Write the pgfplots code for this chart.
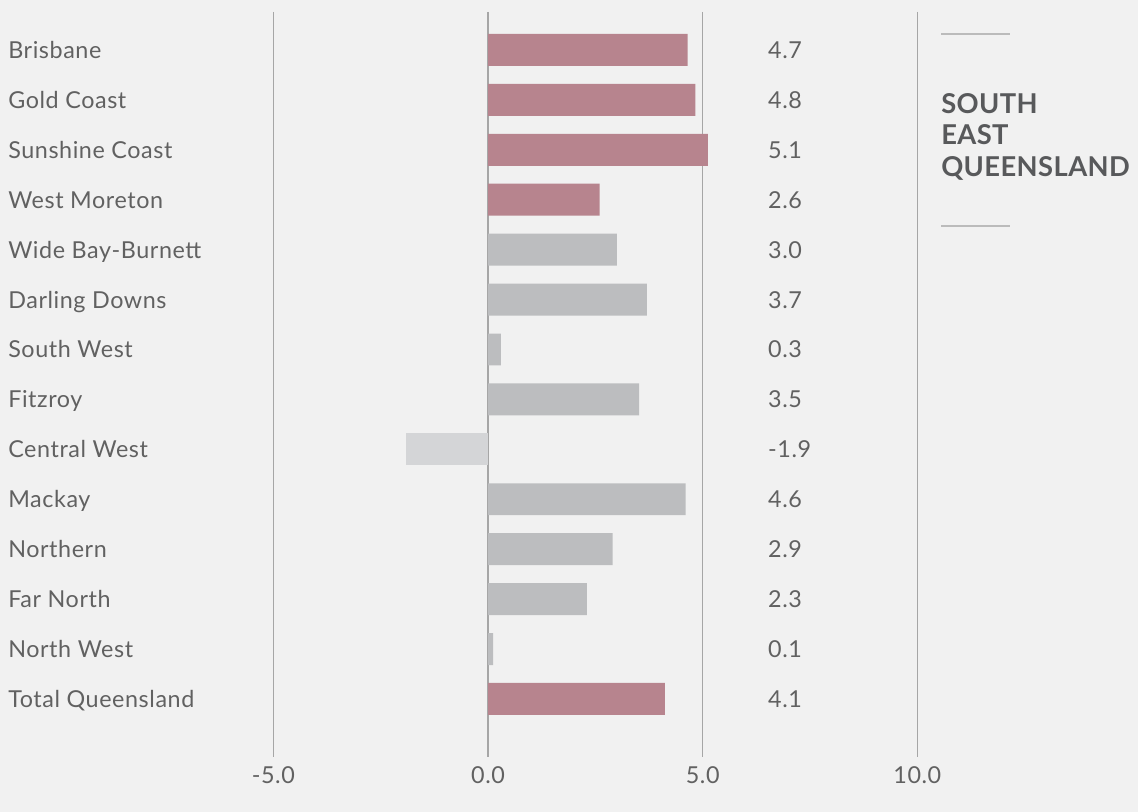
\documentclass[border=0pt]{standalone}
\usepackage{pgfplots}
\pgfplotsset{compat=1.18}
\usepackage{fontspec}
\setmainfont{Lato}[LetterSpace=2.5]
\newfontfamily\headfont{Lato}[LetterSpace=1.5]
\definecolor{bg}{HTML}{F1F1F1}
\definecolor{seq}{HTML}{B7848E}
\definecolor{reg}{HTML}{BCBDBF}
\definecolor{neg}{HTML}{D4D5D7}
\definecolor{grid}{HTML}{A6A6A6}
\definecolor{txt}{HTML}{616161}
\definecolor{ttl}{HTML}{58595B}
\definecolor{rule}{HTML}{BBBBBB}
\begin{document}
\begin{tikzpicture}
\fill[bg] (0,0) rectangle (853.5pt,609pt);
\begin{axis}[
  at={(0,0)}, anchor=south west,
  scale only axis, width=853.5pt, height=609pt,
  xmin=-11.367, xmax=15.14,
  ymin=-1.0, ymax=15.264, y dir=reverse,
  axis lines=none, clip=false,
]
% grid lines
\addplot[draw=grid, line width=1pt, forget plot] coordinates {(-5,-0.76) (-5,14.16)};
\addplot[draw=grid, line width=1pt, forget plot] coordinates {(0,-0.76) (0,14.16)};
\addplot[draw=grid, line width=1pt, forget plot] coordinates {(5,-0.76) (5,14.16)};
\addplot[draw=grid, line width=1pt, forget plot] coordinates {(10,-0.76) (10,14.16)};
% South East Queensland + total
\addplot[xbar, bar width=0.64, bar shift=0pt, fill=seq, draw=none] coordinates {(4.65,0) (4.83,1) (5.12,2) (2.6,3) (4.12,13)};
% Regional
\addplot[xbar, bar width=0.64, bar shift=0pt, fill=reg, draw=none] coordinates {(3.0,4) (3.7,5) (0.3,6) (3.52,7) (4.6,9) (2.9,10) (2.3,11) (0.12,12)};
% Negative
\addplot[xbar, bar width=0.64, bar shift=0pt, fill=neg, draw=none] coordinates {(-1.9,8)};
% category labels
\foreach \n [count=\i from 0] in {Brisbane,Gold Coast,Sunshine Coast,West Moreton,Wide Bay-Burnett,Darling Downs,South West,Fitzroy,Central West,Mackay,Northern,Far North,North West,Total Queensland} {
  \edef\tmp{\noexpand\node[anchor=base west, font=\noexpand\fontsize{17.5}{21}\noexpand\selectfont, text=txt, inner sep=0pt] at (axis cs:-11.18,\i+0.17) {\n};}
  \tmp
}
% value labels
\foreach \v [count=\i from 0] in {4.7,4.8,5.1,2.6,3.0,3.7,0.3,3.5,-1.9,4.6,2.9,2.3,0.1,4.1} {
  \edef\tmp{\noexpand\node[anchor=base west, font=\noexpand\fontsize{17.5}{21}\noexpand\selectfont, text=txt, inner sep=0pt] at (axis cs:6.52,\i+0.17) {\v};}
  \tmp
}
% tick labels
\foreach \t/\l in {-5/-5.0,0/0.0,5/5.0,10/10.0} {
  \edef\tmp{\noexpand\node[anchor=base, font=\noexpand\fontsize{17.5}{21}\noexpand\selectfont, text=txt, inner sep=0pt] at (axis cs:\t,14.69) {\l};}
  \tmp
}
\end{axis}
% legend block
\draw[rule, line width=1pt] (705.75pt,583.5pt) -- (757.5pt,583.5pt);
\draw[rule, line width=1pt] (705.75pt,439.5pt) -- (757.5pt,439.5pt);
\node[anchor=west, align=left, inner sep=0pt, text=ttl, font=\headfont\bfseries\fontsize{20.5}{23.6}\selectfont] at (705.75pt,506.5pt) {SOUTH\\EAST\\QUEENSLAND};
\pgfresetboundingbox
\useasboundingbox (0,0) rectangle (853.5pt,609pt);
\end{tikzpicture}
\end{document}
